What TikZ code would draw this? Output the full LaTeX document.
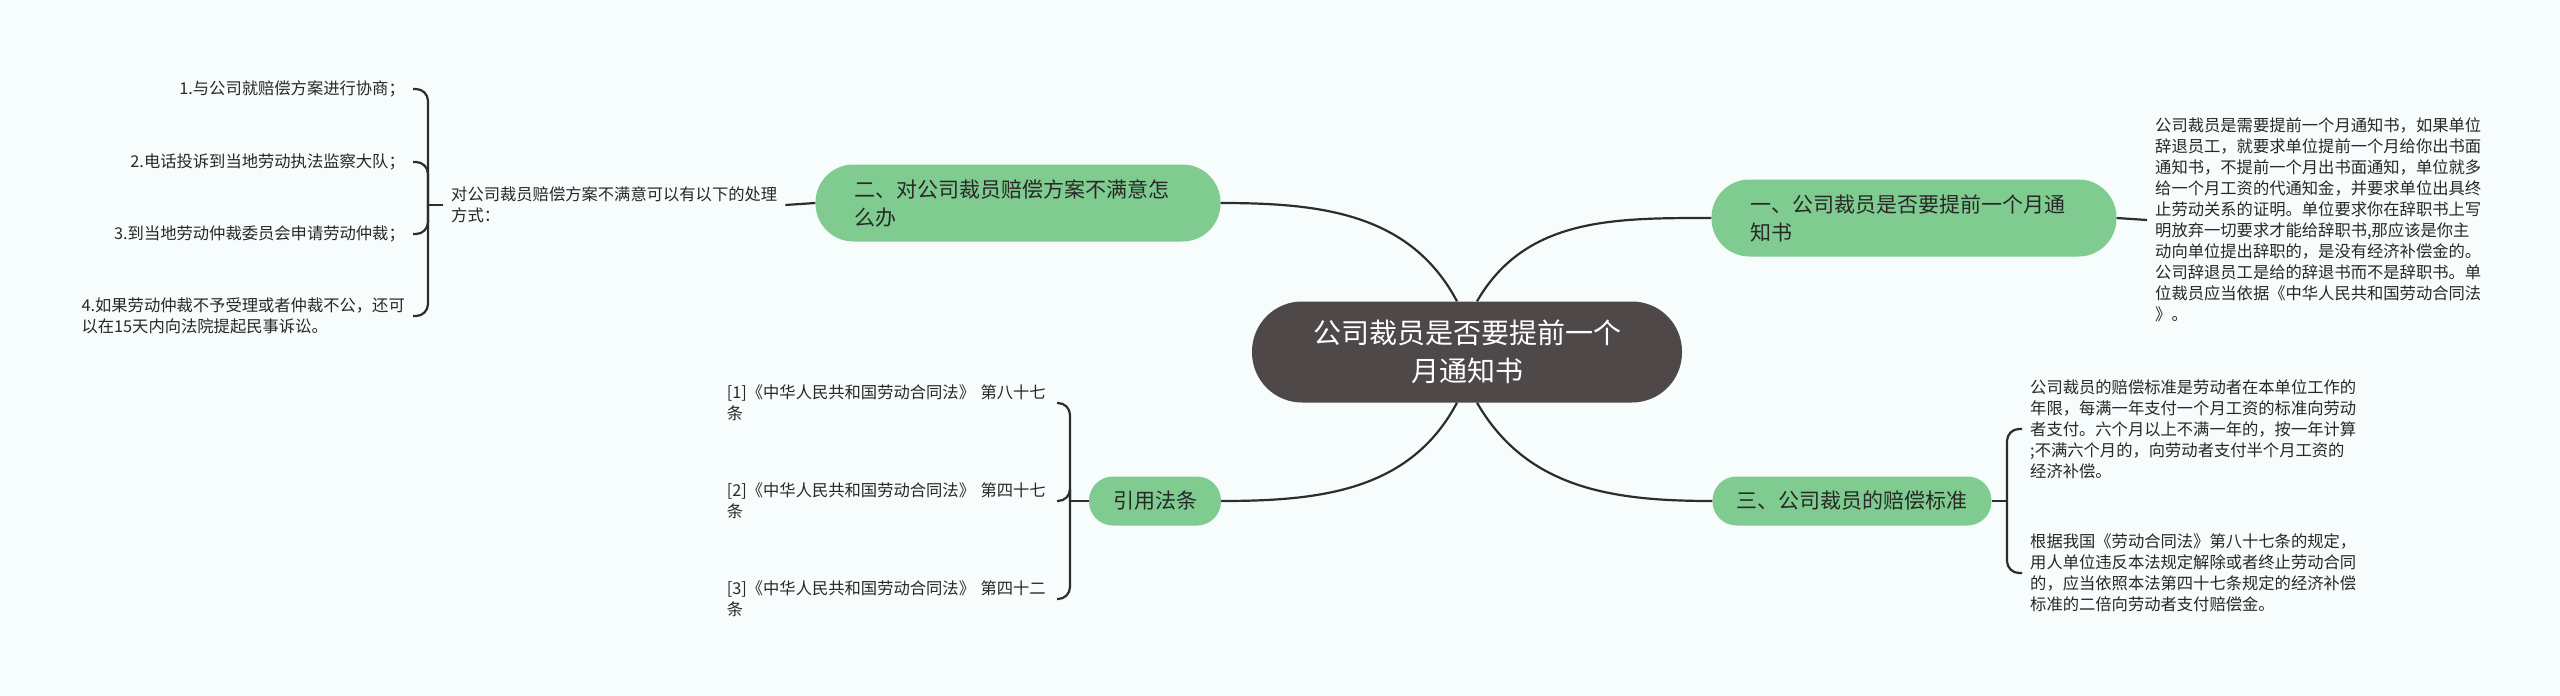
\documentclass[tikz,border=0pt]{standalone}
\usepackage{fontspec}
\setmainfont{Noto Sans CJK SC}
\usepackage{tikz}
\usetikzlibrary{positioning, calc}
\definecolor{BgTint}{RGB}{247, 252, 253}
\definecolor{RootGray}{RGB}{78, 73, 72}
\definecolor{BranchGreen}{RGB}{128, 204, 144}
\definecolor{LineDark}{RGB}{45, 45, 45}
\definecolor{TextDark}{RGB}{40, 40, 40}

\begin{document}
\begin{tikzpicture}[
    x=1pt, y=-1pt,
    root/.style={rectangle, rounded corners=50pt, fill=RootGray, text=white, minimum width=430pt, minimum height=101pt, align=center, font=\fontsize{28}{38}\selectfont},
    branch/.style={rectangle, rounded corners=38pt, fill=BranchGreen, text=TextDark, minimum height=77pt, inner xsep=39pt, text width=327pt, align=left, font=\fontsize{21}{28}\selectfont},
    tag/.style={rectangle, rounded corners=24pt, fill=BranchGreen, text=TextDark, minimum height=49pt, inner xsep=24pt, font=\fontsize{21}{28}\selectfont},
    leaf/.style={text=TextDark, inner xsep=8pt, inner ysep=2pt, align=left, font=\fontsize{16.3}{21}\selectfont},
    link/.style={draw=LineDark, line width=2.2pt},
    brace/.style={draw=LineDark, line width=2.2pt, rounded corners=12pt}
  ]
    \useasboundingbox (0,0) rectangle (2560,696);
    \fill[BgTint] (0,0) rectangle (2560,696);

    % Root
    \node[root] (root) at (1467,352) {公司裁员是否要提前一个\\月通知书};

    % Branches
    \node[branch] (n1) at (1914,218) {一、公司裁员是否要提前一个月通\\知书};
    \node[branch] (n2) at (1018,203) {二、对公司裁员赔偿方案不满意怎\\么办};
    \node[tag] (n3) at (1852,501) {三、公司裁员的赔偿标准};
    \node[tag] (n4) at (1155,501) {引用法条};

    \draw[link] ([xshift=10pt]root.north) to[out=60, in=180] (n1.west);
    \draw[link] ([xshift=-10pt]root.north) to[out=118, in=0] (n2.east);
    \draw[link] ([xshift=10pt]root.south) to[out=-60, in=180] (n3.west);
    \draw[link] ([xshift=-10pt]root.south) to[out=-118, in=0] (n4.east);

    % Leaves of n1
    \node[leaf, anchor=west] (d1) at (2147,220) {公司裁员是需要提前一个月通知书，如果单位\\辞退员工，就要求单位提前一个月给你出书面\\通知书，不提前一个月出书面通知，单位就多\\给一个月工资的代通知金，并要求单位出具终\\止劳动关系的证明。单位要求你在辞职书上写\\明放弃一切要求才能给辞职书,那应该是你主\\动向单位提出辞职的，是没有经济补偿金的。\\公司辞退员工是给的辞退书而不是辞职书。单\\位裁员应当依据《中华人民共和国劳动合同法\\》。};
    \draw[link] (n1.east) -- (d1.west);

    % Leaves of n2
    \node[leaf, anchor=west] (d2) at (443,205) {对公司裁员赔偿方案不满意可以有以下的处理\\方式：};
    \coordinate (j2) at (428,205);
    \node[leaf, anchor=east] (a1) at (413,89) {1.与公司就赔偿方案进行协商；};
    \node[leaf, anchor=east] (a2) at (413,162) {2.电话投诉到当地劳动执法监察大队；};
    \node[leaf, anchor=east] (a3) at (413,234) {3.到当地劳动仲裁委员会申请劳动仲裁；};
    \node[leaf, anchor=east] (a4) at (413,316) {4.如果劳动仲裁不予受理或者仲裁不公，还可\\以在15天内向法院提起民事诉讼。};
    \draw[link] (n2.west) -- (d2.east);
    \draw[link] (d2.west) -- (j2);
    \foreach \a in {a1, a2, a3, a4}
      \draw[brace] (j2) -- (j2 |- \a.east) -- (\a.east);

    % Leaves of n3
    \coordinate (j3) at (2007,501);
    \node[leaf, anchor=west] (c1) at (2022,429) {公司裁员的赔偿标准是劳动者在本单位工作的\\年限，每满一年支付一个月工资的标准向劳动\\者支付。六个月以上不满一年的，按一年计算\\;不满六个月的，向劳动者支付半个月工资的\\经济补偿。};
    \node[leaf, anchor=west] (c2) at (2022,573) {根据我国《劳动合同法》第八十七条的规定，\\用人单位违反本法规定解除或者终止劳动合同\\的，应当依照本法第四十七条规定的经济补偿\\标准的二倍向劳动者支付赔偿金。};
    \draw[link] (n3.east) -- (j3);
    \foreach \c in {c1, c2}
      \draw[brace] (j3) -- (j3 |- \c.west) -- (\c.west);

    % Leaves of n4
    \coordinate (j4) at (1070,501);
    \node[leaf, anchor=east, text width=322pt] (r1) at (1057,403) {[1]《中华人民共和国劳动合同法》 第八十七\\条};
    \node[leaf, anchor=east, text width=322pt] (r2) at (1057,501) {[2]《中华人民共和国劳动合同法》 第四十七\\条};
    \node[leaf, anchor=east, text width=322pt] (r3) at (1057,599) {[3]《中华人民共和国劳动合同法》 第四十二\\条};
    \draw[link] (n4.west) -- (j4);
    \foreach \r in {r1, r2, r3}
      \draw[brace] (j4) -- (j4 |- \r.east) -- (\r.east);
  \end{tikzpicture}
\end{document}
